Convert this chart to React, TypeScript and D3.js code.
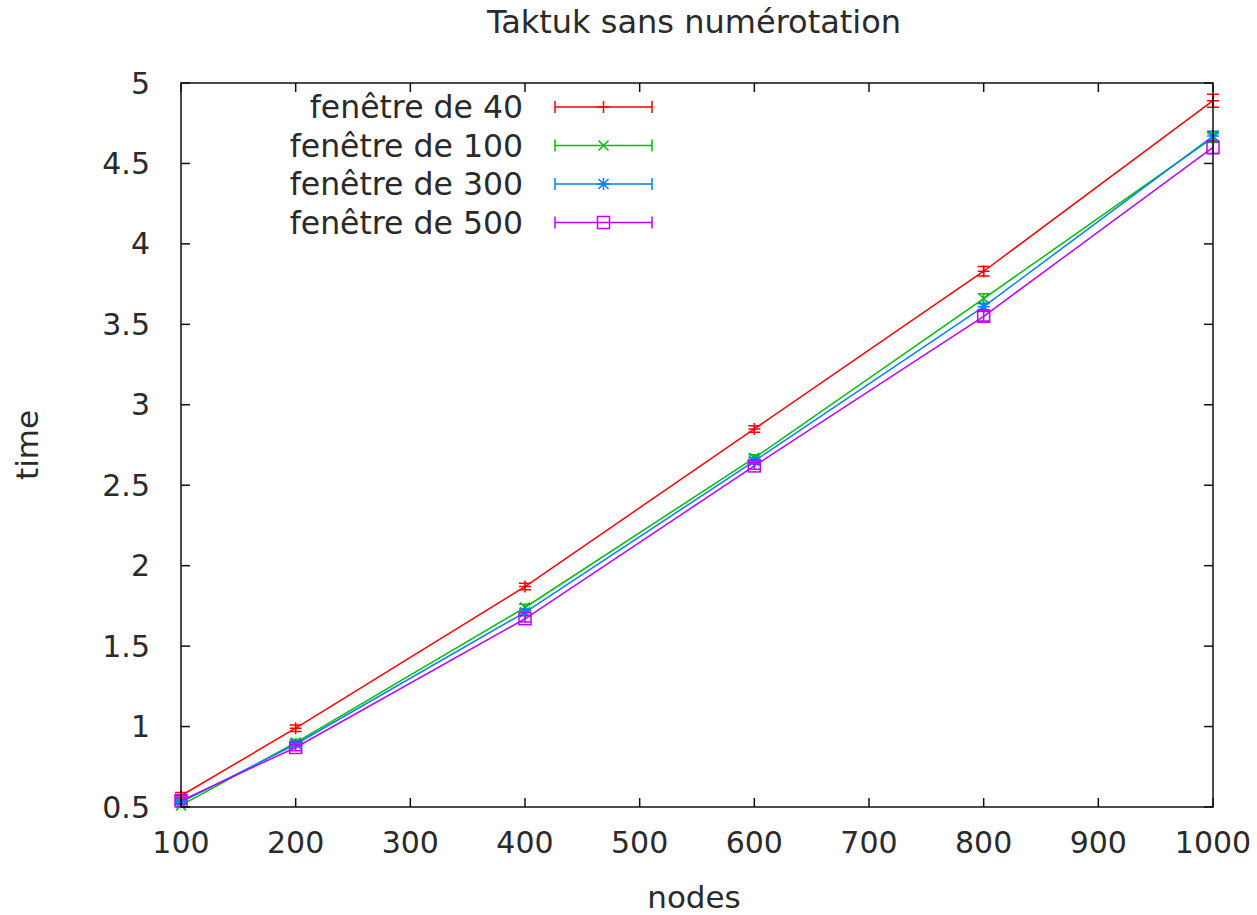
import React from 'react';
import * as d3 from 'd3';

// values
const nodes = [100, 200, 400, 600, 800, 1000];
const fen40 = [0.57, 0.99, 1.87, 2.85, 3.83, 4.89];
const fen100 = [0.51, 0.9, 1.74, 2.67, 3.66, 4.66];
const fen300 = [0.53, 0.89, 1.71, 2.65, 3.61, 4.67];
const fen500 = [0.54, 0.87, 1.67, 2.62, 3.55, 4.6];
const err40 = [0.02, 0.02, 0.02, 0.02, 0.03, 0.04];
const err100 = [0.01, 0.02, 0.02, 0.02, 0.03, 0.03];
const err300 = [0.01, 0.01, 0.02, 0.02, 0.02, 0.03];
const err500 = [0.02, 0.02, 0.02, 0.02, 0.03, 0.04];
const seriesNames = ['fenêtre de 40', 'fenêtre de 100', 'fenêtre de 300', 'fenêtre de 500'];
const seriesColors = ['#ff0000', '#00c000', '#0080ff', '#c000ff'];
const xTicks = [100, 200, 300, 400, 500, 600, 700, 800, 900, 1000];
const yTicks = [0.5, 1, 1.5, 2, 2.5, 3, 3.5, 4, 4.5, 5];

const W = 1257;
const H = 915;
const margin = { left: 181, right: 44, top: 83, bottom: 108 };
const FONT = 'DejaVu Sans, sans-serif';
const TEXT = '#2a2a2a';

type Kind = 'plus' | 'cross' | 'star' | 'square';
const kinds: Kind[] = ['plus', 'cross', 'star', 'square'];

const Marker = ({ x, y, kind, color }: { x: number; y: number; kind: Kind; color: string }) => {
  const s = 6;
  const c = 5;
  const plus = `M${x - s},${y}H${x + s}M${x},${y - s}V${y + s}`;
  const cross = `M${x - c},${y - c}L${x + c},${y + c}M${x - c},${y + c}L${x + c},${y - c}`;
  if (kind === 'square') {
    return <rect x={x - 6} y={y - 6} width={12} height={12} fill="none" stroke={color} strokeWidth={1.5} />;
  }
  const d = kind === 'plus' ? plus : kind === 'cross' ? cross : plus + cross;
  return <path d={d} stroke={color} strokeWidth={1.5} fill="none" />;
};

export default function App() {
  const x = d3.scaleLinear().domain([100, 1000]).range([margin.left, W - margin.right]);
  const y = d3.scaleLinear().domain([0.5, 5]).range([H - margin.bottom, margin.top]);
  const [x0, x1] = x.range();
  const [y0, y1] = y.range();

  const series = [fen40, fen100, fen300, fen500];
  const errs = [err40, err100, err300, err500];

  const line = d3
    .line<number>()
    .x((_, i) => x(nodes[i]))
    .y((d) => y(d));

  const tick = 9;
  const cap = 6;

  return (
    <svg width={W} height={H} style={{ position: 'absolute', left: 0, top: 0, background: '#fff' }}>
      <text x={694} y={33} textAnchor="middle" fontFamily={FONT} fontSize={32} fill={TEXT}>
        Taktuk sans numérotation
      </text>

      {/* series */}
      {series.map((vals, si) => (
        <g key={si}>
          <path d={line(vals) || ''} fill="none" stroke={seriesColors[si]} strokeWidth={1.5} />
          {vals.map((v, i) => {
            const px = x(nodes[i]);
            const lo = y(v - errs[si][i]);
            const hi = y(v + errs[si][i]);
            return (
              <g key={i}>
                <path
                  d={`M${px},${lo}V${hi}M${px - cap},${lo}H${px + cap}M${px - cap},${hi}H${px + cap}`}
                  stroke={seriesColors[si]}
                  strokeWidth={1.5}
                  fill="none"
                />
                <Marker x={px} y={y(v)} kind={kinds[si]} color={seriesColors[si]} />
              </g>
            );
          })}
        </g>
      ))}

      {/* frame and ticks */}
      <rect x={x0} y={y1} width={x1 - x0} height={y0 - y1} fill="none" stroke="#111" strokeWidth={1.5} />
      {xTicks.map((t) => (
        <g key={t}>
          <line x1={x(t)} x2={x(t)} y1={y0} y2={y0 - tick} stroke="#111" strokeWidth={1.5} />
          <line x1={x(t)} x2={x(t)} y1={y1} y2={y1 + tick} stroke="#111" strokeWidth={1.5} />
          <text x={x(t)} y={y0 + 46} textAnchor="middle" fontFamily={FONT} fontSize={30} fill={TEXT}>
            {t}
          </text>
        </g>
      ))}
      {yTicks.map((t) => (
        <g key={t}>
          <line x1={x0} x2={x0 + tick} y1={y(t)} y2={y(t)} stroke="#111" strokeWidth={1.5} />
          <line x1={x1} x2={x1 - tick} y1={y(t)} y2={y(t)} stroke="#111" strokeWidth={1.5} />
          <text x={150} y={y(t)} dy="0.35em" textAnchor="end" fontFamily={FONT} fontSize={30} fill={TEXT}>
            {t}
          </text>
        </g>
      ))}

      <text x={694} y={908} textAnchor="middle" fontFamily={FONT} fontSize={31} fill={TEXT}>
        nodes
      </text>
      <text
        transform="translate(38,445) rotate(-90)"
        textAnchor="middle"
        fontFamily={FONT}
        fontSize={31}
        fill={TEXT}
      >
        time
      </text>

      {/* legend */}
      {seriesNames.map((name, i) => {
        const ly = 107 + i * 38.5;
        const a = 555;
        const b = 652;
        return (
          <g key={name}>
            <text x={523} y={ly} dy="0.35em" textAnchor="end" fontFamily={FONT} fontSize={31.5} fill={TEXT}>
              {name}
            </text>
            <path
              d={`M${a},${ly}H${b}M${a},${ly - cap}V${ly + cap}M${b},${ly - cap}V${ly + cap}`}
              stroke={seriesColors[i]}
              strokeWidth={1.5}
              fill="none"
            />
            <Marker x={(a + b) / 2} y={ly} kind={kinds[i]} color={seriesColors[i]} />
          </g>
        );
      })}
    </svg>
  );
}
